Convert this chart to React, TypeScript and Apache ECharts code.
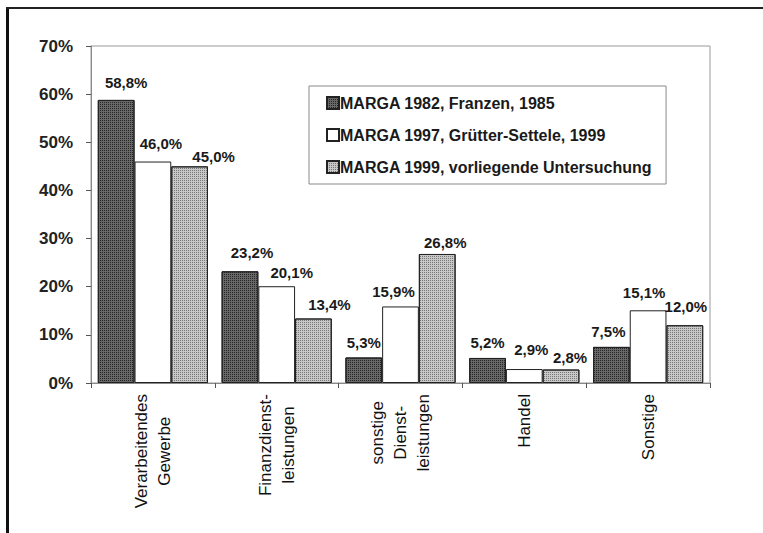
import React, { useEffect, useRef } from "react";
import * as echarts from "echarts";

const categories = [
  "Verarbeitendes\nGewerbe",
  "Finanzdienst-\nleistungen",
  "sonstige\nDienst-\nleistungen",
  "Handel",
  "Sonstige",
];
const seriesNames = [
  "MARGA 1982, Franzen, 1985",
  "MARGA 1997, Grütter-Settele, 1999",
  "MARGA 1999, vorliegende Untersuchung",
];
const marga1982 = [58.8, 23.2, 5.3, 5.2, 7.5];
const marga1997 = [46.0, 20.1, 15.9, 2.9, 15.1];
const marga1999 = [45.0, 13.4, 26.8, 2.8, 12.0];
const yTicks = [0, 10, 20, 30, 40, 50, 60, 70];

const FONT = "'Liberation Sans', Arial, sans-serif";

export default function App() {
  const ref = useRef<HTMLDivElement>(null);
  useEffect(() => {
    if (!ref.current) return;
    const chart = echarts.init(ref.current, undefined, { renderer: "svg" });
    const fmt = (p: any) => Number(p.value).toFixed(1).replace(".", ",") + "%";
    const styles = [
      { color: "#686868", decal: { symbol: "rect", symbolSize: 1, dashArrayX: [1, 1], dashArrayY: [1, 1], color: "#252525" } },
      { color: "#ffffff", decal: undefined },
      { color: "#c8c8c8", decal: { symbol: "rect", symbolSize: 1, dashArrayX: [1, 1], dashArrayY: [1, 1], color: "#767676" } },
    ];
    // small label nudges (dx, dy) mimicking the original label placement
    const nudges = [
      [[10, -2], [12, -3], [0, 1], [0, 0], [-3, 0]],
      [[8, -3], [15, 2], [-7, 1], [7, -4], [-4, -2]],
      [[24, 6], [16, 2], [8, 4], [9, 3], [1, -3]],
    ];
    const data = [marga1982, marga1997, marga1999];
    chart.setOption({
      animation: false,
      backgroundColor: "#ffffff",
      textStyle: { fontFamily: FONT },
      grid: {
        left: 91,
        top: 46,
        right: 53,
        bottom: 150,
        show: true,
        borderColor: "#9a9a9a",
        borderWidth: 1,
      },
      legend: {
        orient: "vertical",
        left: 309,
        top: 86,
        padding: [9, 14, 9, 17],
        itemGap: 16,
        itemWidth: 12,
        itemHeight: 12,
        icon: "rect",
        borderColor: "#8a8a8a",
        borderWidth: 1,
        backgroundColor: "#ffffff",
        textStyle: { fontFamily: FONT, fontSize: 16, fontWeight: "bold", color: "#1a1a1a", padding: [0, 0, 0, -4] },
        data: seriesNames,
      },
      xAxis: {
        type: "category",
        data: categories,
        axisLine: { lineStyle: { color: "#8a8a8a", width: 1 } },
        axisTick: { show: true, length: 5, lineStyle: { color: "#555" } },
        axisLabel: {
          rotate: 90,
          interval: 0,
          margin: 11,
          fontFamily: FONT,
          fontSize: 17,
          color: "#111",
          lineHeight: 23,
          formatter: (v: string) =>
            v
              .split("\n")
              .map((l) => `{c|${l}}`)
              .join("\n"),
          rich: { c: { align: "center", fontSize: 17, lineHeight: 23, color: "#111", fontFamily: FONT } },
        },
      },
      yAxis: {
        type: "value",
        min: 0,
        max: 70,
        interval: 10,
        axisLine: { show: true, lineStyle: { color: "#8a8a8a" } },
        axisTick: { show: true, length: 5, lineStyle: { color: "#555" } },
        splitLine: { show: false },
        axisLabel: {
          margin: 18,
          fontFamily: FONT,
          fontSize: 17,
          fontWeight: "bold",
          color: "#222",
          formatter: (v: number) => (yTicks.includes(v) ? `${v}%` : ""),
        },
      },
      series: seriesNames.map((name, i) => ({
        name,
        type: "bar",
        data: data[i].map((v, j) => ({
          value: v,
          label: { offset: nudges[i][j] },
        })),
        barGap: "0%",
        barCategoryGap: "11%",
        itemStyle: {
          color: styles[i].color,
          borderColor: "#222",
          borderWidth: 1,
          decal: styles[i].decal,
        },
        label: {
          show: true,
          position: "top",
          distance: 8,
          fontFamily: FONT,
          fontSize: 15,
          fontWeight: "bold",
          color: "#1a1a1a",
          formatter: fmt,
        },
      })),
      graphic: [
        { type: "rect", shape: { x: 6, y: 7, width: 3, height: 526 }, style: { fill: "#111" } },
        { type: "rect", shape: { x: 6, y: 7, width: 757, height: 2 }, style: { fill: "#222" } },
      ],
    });
    return () => chart.dispose();
  }, []);
  return <div ref={ref} style={{ width: 763, height: 533, position: "absolute", left: 0, top: 0 }} />;
}
